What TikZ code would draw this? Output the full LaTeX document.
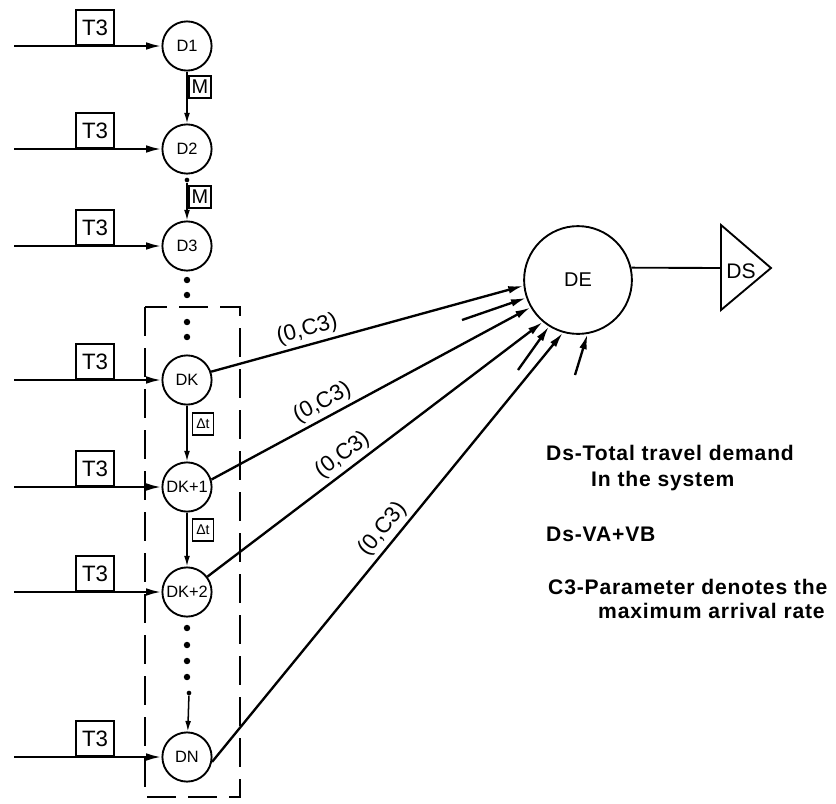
\documentclass[tikz,border=0pt]{standalone}
\usepackage{fontspec}
\setmainfont{Liberation Sans}
\newfontfamily\legendfont[LetterSpace=4]{Liberation Sans}
\usetikzlibrary{arrows.meta, positioning}

\tikzset{
  demand/.style={circle, draw, line width=1.6pt, minimum size=42pt, inner sep=0pt,
                 font=\fontsize{14}{14}\selectfont},
  tbox/.style={draw, line width=1.6pt, minimum width=32pt, minimum height=30pt,
               inner sep=0pt, anchor=south, font=\fontsize{19}{19}\selectfont},
  mbox/.style={draw, line width=1.2pt, minimum size=19pt, inner sep=0pt,
               font=\fontsize{17}{17}\selectfont},
  dtbox/.style={draw, line width=1.2pt, minimum width=18pt, minimum height=19pt,
                inner sep=0pt, font=\fontsize{12}{12}\selectfont},
  feed/.style={-{Latex[length=13pt,width=6.5pt]}, line width=2pt},
  chain/.style={-{Latex[length=9pt,width=5pt]}, line width=1.3pt},
  rate/.style={font=\fontsize{19}{19}\selectfont, sloped, above, inner sep=3pt},
  legend/.style={anchor=base west, inner sep=0pt,
                 font=\legendfont\bfseries\fontsize{18}{22}\selectfont},
  dot/.style={circle, fill, inner sep=0pt, minimum size=5.5pt}
}

\begin{document}
\begin{tikzpicture}[x=0.03cm, y=-0.03cm]
  \useasboundingbox (0,0) rectangle (836,803);

  % demand stages with their T3 inputs
  \foreach \nm/\txt/\yy in {D1/D1/46, D2/D2/149, D3/D3/246, DK/DK/380,
                            DKa/DK+1/487, DKb/DK+2/592, DN/DN/757}{
    \node[demand] (\nm) at (187,\yy) {\txt};
    \coordinate (in\nm) at (14,\yy);
    \node[tbox] (t\nm) at (95,\yy) {T3};
    \draw[feed] (in\nm) -- (\nm);
  }

  % window of stages
  \draw[line width=2.2pt, dash pattern=on 25pt off 10pt] (145,307) rectangle (240,797);

  % chain between stages
  \draw[chain] (D1) -- (D2);
  \node[mbox] (m1) at (200,87) {M};
  \node[dot, minimum size=4pt] (p2) at (187,180) {};
  \draw[chain] (p2) -- (D3);
  \node[mbox] (m2) at (200,197) {M};
  \draw[chain] (DK) -- (DKa);
  \node[dtbox] (dt1) at (203,424) {Δt};
  \draw[chain] (DKa) -- (DKb);
  \node[dtbox] (dt2) at (203,530) {Δt};
  \foreach \yy in {280,295,322,337,628,645,661,677}
    \node[dot] at (187,\yy) {};
  \node[dot, minimum size=4pt] (pN) at (189,693) {};
  \draw[chain] (pN) -- (DN);

  % total demand and output
  \node[demand, minimum size=92pt, font=\fontsize{17}{17}\selectfont] (DE) at (578,280) {DE};
  \draw[line width=1.6pt] (721,225) -- (771,268) -- (721,310) -- cycle;
  \coordinate (DSin) at (721,268);
  \node[inner sep=0pt, font=\fontsize{18}{18}\selectfont] (DS) at (741,271) {DS};
  \draw[line width=1.6pt] (DE.13) -- (DSin);

  % arrival links
  \draw[feed] (DK.19) -- node[rate, pos=0.32] (r1) {(0,C3)} (DE.186);
  \draw[feed] (DKa.17) -- node[rate, pos=0.37] (r2) {(0,C3)} (DE.210);
  \draw[feed] (DKb.37) -- node[rate, pos=0.43] (r3) {(0,C3)} (DE.230);
  \draw[feed] (DN.-11) -- node[rate, pos=0.52] (r4) {(0,C3)} (DE.254);
  \coordinate (s1) at (462,320);
  \coordinate (s2) at (518,370);
  \coordinate (s3) at (575,375);
  \draw[feed] (s1) -- (DE.199);
  \draw[feed] (s2) -- (DE.238);
  \draw[feed] (s3) -- (DE.280);

  % legend
  \node[legend] (lg1) at (546,460) {Ds-Total travel demand};
  \node[legend] (lg2) at (591,486) {In the system};
  \node[legend] (lg3) at (546,541) {Ds-VA+VB};
  \node[legend] (lg4) at (548,594) {C3-Parameter denotes the};
  \node[legend] (lg5) at (598,618) {maximum arrival rate};
\end{tikzpicture}
\end{document}
